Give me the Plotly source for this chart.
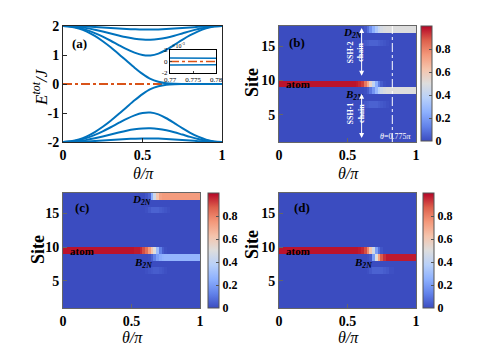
import plotly.graph_objects as go

# ---------------- data ----------------
# panel (a): spectrum vs theta/pi (upper half; lower half is its mirror)
theta = [0, 0.05, 0.1, 0.15, 0.2, 0.25, 0.3, 0.35, 0.4, 0.45, 0.5,
         0.55, 0.6, 0.65, 0.7, 0.75, 0.8, 0.85, 0.9, 0.95, 1.0]
e_edge = [2, 1.978, 1.912, 1.804, 1.657, 1.476, 1.267, 1.037, 0.798, 0.561, 0.347,
          0.175, 0.078, 0.025, 0.007, 0.0014, 0.0003, 0.0001, 0, 0, 0]
e_band1 = [2, 1.984, 1.936, 1.859, 1.756, 1.631, 1.491, 1.344, 1.202, 1.081, 1.000,
           0.984, 1.049, 1.181, 1.349, 1.523, 1.683, 1.817, 1.917, 1.979, 2]
e_band2 = [2, 1.992, 1.967, 1.927, 1.874, 1.811, 1.743, 1.675, 1.612, 1.563, 1.532,
           1.526, 1.549, 1.597, 1.665, 1.744, 1.824, 1.896, 1.952, 1.988, 2]
e_band3 = [2, 1.998, 1.991, 1.980, 1.966, 1.949, 1.931, 1.914, 1.898, 1.887, 1.879,
           1.878, 1.883, 1.894, 1.911, 1.930, 1.951, 1.970, 1.986, 1.996, 2]
e_atom = [0] * len(theta)

# inset of (a)
inset_theta = [0.77, 0.775, 0.78]
inset_edge = [0.00063, 0.0006, 0.00056]
inset_atom = [0, 0, 0]

# heatmaps: theta cell edges, site cell edges (pcolor style)
theta_edges = [0, 0.52, 0.56, 0.58, 0.60, 0.62, 0.64, 0.66, 0.68, 0.70,
               0.72, 0.74, 0.76, 0.78, 0.80, 0.84, 1.0]
site_edges = list(range(1, 19))

b_atom = [0.98, 0.98, 0.97, 0.95, 0.92, 0.82, 0.70, 0.55, 0.40, 0.25, 0.11, 0.04, 0.01, 0, 0, 0]
b_B2N = [0, 0, 0, 0, 0, 0.01, 0.04, 0.10, 0.18, 0.28, 0.38, 0.45, 0.48, 0.5, 0.5, 0.5]
b_D2N = [0, 0, 0, 0, 0.01, 0.03, 0.08, 0.16, 0.25, 0.34, 0.42, 0.47, 0.49, 0.5, 0.5, 0.5]
b_s15 = [0, 0, 0, 0, 0.01, 0.03, 0.04, 0.05, 0.05, 0.05, 0.04, 0.03, 0.02, 0.01, 0, 0]
b_s6 = [0, 0, 0, 0, 0.01, 0.03, 0.04, 0.05, 0.05, 0.05, 0.04, 0.03, 0.02, 0.01, 0, 0]

c_atom = [0.98, 0.97, 0.95, 0.90, 0.84, 0.74, 0.62, 0.50, 0.30, 0.12, 0.04, 0.01, 0, 0, 0, 0]
c_B2N = [0, 0, 0, 0, 0, 0.01, 0.05, 0.12, 0.20, 0.24, 0.26, 0.27, 0.27, 0.27, 0.27, 0.27]
c_D2N = [0, 0, 0, 0, 0.02, 0.05, 0.25, 0.45, 0.62, 0.72, 0.74, 0.74, 0.74, 0.74, 0.74, 0.74]
c_s15 = [0, 0, 0, 0, 0.01, 0.03, 0.05, 0.05, 0.05, 0.04, 0.03, 0.02, 0.01, 0, 0, 0]
c_s6 = [0, 0, 0, 0, 0.01, 0.02, 0.03, 0.04, 0.04, 0.03, 0.02, 0.01, 0, 0, 0, 0]

d_atom = [0.98, 0.98, 0.98, 0.97, 0.95, 0.90, 0.78, 0.62, 0.45, 0.20, 0.08, 0.02, 0, 0, 0, 0]
d_B2N = [0, 0, 0, 0, 0, 0, 0.01, 0.03, 0.20, 0.50, 0.72, 0.88, 0.94, 0.97, 0.97, 0.97]
d_s6 = [0, 0, 0, 0, 0, 0, 0.01, 0.03, 0.05, 0.05, 0.05, 0.05, 0.04, 0.03, 0.01, 0]

# ---------------- style ----------------
# the page body adds an 8px margin, so the figure is sized to fit the window
OFF = 8
W, H = 491 - OFF, 351 - OFF
SERIF = "Liberation Serif"
BLUE = "#0072BD"
ORANGE = "#D95319"
coolwarm = [[0.0, "#3b4cc0"], [0.125, "#6282ea"], [0.25, "#8db0fe"], [0.375, "#b8d0f9"],
            [0.5, "#dddddd"], [0.625, "#f5c4ac"], [0.75, "#f4987a"], [0.875, "#dd604c"],
            [1.0, "#b40426"]]


def fx(x):
    return (x - OFF) / W


def fy(y):
    return 1 - (y - OFF) / H


def px(x0, x1, y0, y1):
    return [fx(x0), fx(x1)], [fy(y1), fy(y0)]


def build(rows):
    ncol = len(theta_edges) - 1
    z = [[0.0] * ncol for _ in range(len(site_edges) - 1)]
    for site, vals in rows.items():
        z[site - 1] = vals
    return z


fig = go.Figure()

# panel (a)
fig.add_trace(go.Scatter(x=theta, y=e_atom, mode="lines", xaxis="x", yaxis="y",
                         line=dict(color=ORANGE, width=2, dash="dashdot")))
for band in [e_edge, e_band1, e_band2, e_band3]:
    for sgn in [1, -1]:
        fig.add_trace(go.Scatter(x=theta, y=[sgn * v for v in band], mode="lines",
                                 xaxis="x", yaxis="y",
                                 line=dict(color=BLUE, width=2, shape="spline", smoothing=0.8)))

# inset
fig.add_trace(go.Scatter(x=inset_theta, y=inset_atom, mode="lines", xaxis="x5", yaxis="y5",
                         line=dict(color=ORANGE, width=1.5, dash="dashdot")))
for sgn in [1, -1]:
    fig.add_trace(go.Scatter(x=inset_theta, y=[sgn * v for v in inset_edge], mode="lines",
                             xaxis="x5", yaxis="y5", line=dict(color=BLUE, width=1.5)))


def cbar(xpx, ytop):
    return dict(x=fx(xpx), xanchor="left", y=fy(ytop), yanchor="top",
                len=115 / H, lenmode="fraction", thickness=11, thicknessmode="pixels",
                xpad=0, ypad=0, outlinewidth=1, outlinecolor="#555",
                tickvals=[0, 0.2, 0.4, 0.6, 0.8], ticktext=["0", "0.2", "0.4", "0.6", "0.8"],
                ticks="inside", ticklen=3, tickcolor="#555",
                tickfont=dict(family=SERIF, size=12, color="black", weight="bold"))


hm = [("x2", "y2", build({9: b_atom, 8: b_B2N, 17: b_D2N, 15: b_s15, 6: b_s6}), cbar(421, 26)),
      ("x3", "y3", build({9: c_atom, 8: c_B2N, 17: c_D2N, 15: c_s15, 6: c_s6}), cbar(208, 193)),
      ("x4", "y4", build({9: d_atom, 8: d_B2N, 6: d_s6}), cbar(423, 193))]
for xa, ya, z, cb in hm:
    fig.add_trace(go.Heatmap(x=theta_edges, y=site_edges, z=z, xaxis=xa, yaxis=ya,
                             zmin=0, zmax=1, colorscale=coolwarm, colorbar=cb))

axis_common = dict(showline=True, mirror=True, linewidth=1, ticks="inside", ticklen=4,
                   showgrid=False, zeroline=False, automargin=False,
                   tickfont=dict(family=SERIF, size=14, color="black", weight="bold"))

boxes = {"a": px(63, 222, 26, 142), "b": px(279, 416, 26, 142),
         "c": px(63, 200, 193, 308), "d": px(279, 416, 193, 308),
         "in": px(170, 216, 50, 73)}

xt = dict(tickvals=[0, 0.5, 1], ticktext=["0", "0.5", "1"], range=[0, 1])
st = dict(tickvals=[5, 10, 15], ticktext=["5", "10", "15"], range=[1, 18])

fig.update_layout(
    width=W, height=H, autosize=False, margin=dict(l=0, r=0, t=0, b=0, pad=0),
    template="none",
    paper_bgcolor="white", plot_bgcolor="white", showlegend=False,
    xaxis=dict(domain=boxes["a"][0], anchor="y", linecolor="#262626", tickcolor="#262626", **xt, **axis_common),
    yaxis=dict(domain=boxes["a"][1], anchor="x", linecolor="#262626", tickcolor="#262626",
               range=[-2, 2], tickvals=[-2, -1, 0, 1, 2], ticktext=["-2", "-1", "0", "1", "2"],
               **axis_common),
    xaxis2=dict(domain=boxes["b"][0], anchor="y2", linecolor="#666", tickcolor="#666", **xt, **axis_common),
    yaxis2=dict(domain=boxes["b"][1], anchor="x2", linecolor="#666", tickcolor="#666", **st, **axis_common),
    xaxis3=dict(domain=boxes["c"][0], anchor="y3", linecolor="#666", tickcolor="#666", **xt, **axis_common),
    yaxis3=dict(domain=boxes["c"][1], anchor="x3", linecolor="#666", tickcolor="#666", **st, **axis_common),
    xaxis4=dict(domain=boxes["d"][0], anchor="y4", linecolor="#666", tickcolor="#666", **xt, **axis_common),
    yaxis4=dict(domain=boxes["d"][1], anchor="x4", linecolor="#666", tickcolor="#666", **st, **axis_common),
    xaxis5=dict(domain=boxes["in"][0], anchor="y5", range=[0.77, 0.78],
                tickvals=[0.77, 0.775, 0.78], ticktext=["0.77", "0.775", "0.78"],
                showline=True, mirror=True, linecolor="black", linewidth=1, ticks="inside",
                ticklen=2, showgrid=False, zeroline=False, automargin=False,
                tickfont=dict(family=SERIF, size=7, color="black")),
    yaxis5=dict(domain=boxes["in"][1], anchor="x5", range=[-0.002, 0.002],
                tickvals=[-0.002, 0, 0.002], ticktext=["-2", "0", "2"],
                showline=True, mirror=True, linecolor="black", linewidth=1, ticks="inside",
                ticklen=2, showgrid=False, zeroline=False, automargin=False,
                tickfont=dict(family=SERIF, size=7, color="black")),
)

ann = []


def note(text, x, y, size=15, **kw):
    d = dict(text=text, x=fx(x), y=fy(y), xref="paper", yref="paper", showarrow=False,
             xanchor="center", yanchor="middle",
             font=dict(family=SERIF, size=size, color="black"))
    d.update(kw)
    ann.append(d)


note("<i>E</i><sup><i>tot</i></sup><i>/J</i>", 40, 87, size=17, textangle=-90)
note("<i>θ/π</i>", 143, 173, size=16)
note("<i>θ/π</i>", 348, 173, size=16)
note("<i>θ/π</i>", 132, 337, size=16)
note("<i>θ/π</i>", 348, 337, size=16)
note("<b>Site</b>", 252, 83, size=18, textangle=-90)
note("<b>Site</b>", 38, 250, size=18, textangle=-90)
note("<b>Site</b>", 252, 245, size=18, textangle=-90)
note("×10<sup>-3</sup>", 178, 45, size=6)


def dnote(text, x, y, xa, ya, size=11, color="black", **kw):
    d = dict(text=text, x=x, y=y, xref=xa, yref=ya, showarrow=False,
             xanchor="center", yanchor="middle",
             font=dict(family=SERIF, size=size, color=color))
    d.update(kw)
    ann.append(d)


dnote("<b>(a)</b>", 0.045, 1.38, "x", "y", size=13, xanchor="left")
dnote("<b>(b)</b>", 0.06, 15.6, "x2", "y2", size=13, xanchor="left")
dnote("<b>(c)</b>", 0.07, 15.9, "x3", "y3", size=13, xanchor="left")
dnote("<b>(d)</b>", 0.095, 15.9, "x4", "y4", size=13, xanchor="left")
for xa, ya in [("x2", "y2"), ("x3", "y3"), ("x4", "y4")]:
    dnote("<b>atom</b>", 0.04, 9.5, xa, ya, size=11, xanchor="left")
dnote("<b><i>D</i></b><sub><b><i>2N</i></b></sub>", 0.45, 17.0, "x2", "y2", size=11, xanchor="left")
dnote("<b><i>B</i></b><sub><b><i>2N</i></b></sub>", 0.47, 7.9, "x2", "y2", size=11, xanchor="left")
dnote("<b><i>D</i></b><sub><b><i>2N</i></b></sub>", 0.49, 16.9, "x3", "y3", size=11, xanchor="left")
dnote("<b><i>B</i></b><sub><b><i>2N</i></b></sub>", 0.50, 7.7, "x3", "y3", size=11, xanchor="left")
dnote("<b><i>B</i></b><sub><b><i>2N</i></b></sub>", 0.53, 7.7, "x4", "y4", size=11, xanchor="left")

dnote("<b>SSH-2<br>chain</b>", 0.558, 14.2, "x2", "y2", size=8, color="white", textangle=-90)
dnote("<b>SSH-1<br>chain</b>", 0.558, 5.25, "x2", "y2", size=8, color="white", textangle=-90)
dnote("<i>θ</i>=0.775<i>π</i>", 0.847, 1.75, "x2", "y2", size=8, color="white")

for y_head, y_tail in [(17.7, 10.5), (1.6, 8.3)]:
    ann.append(dict(x=0.603, y=y_head, ax=0.603, ay=y_tail, xref="x2", yref="y2",
                    axref="x2", ayref="y2", text="", showarrow=True, arrowhead=2,
                    startarrowhead=2, arrowside="end+start", arrowsize=1, arrowwidth=1,
                    arrowcolor="white"))

fig.update_layout(annotations=ann)
fig.add_shape(type="line", x0=0.827, x1=0.827, y0=1, y1=18, xref="x2", yref="y2",
              line=dict(color="white", width=1, dash="dashdot"))

fig.write_html("out.html")
